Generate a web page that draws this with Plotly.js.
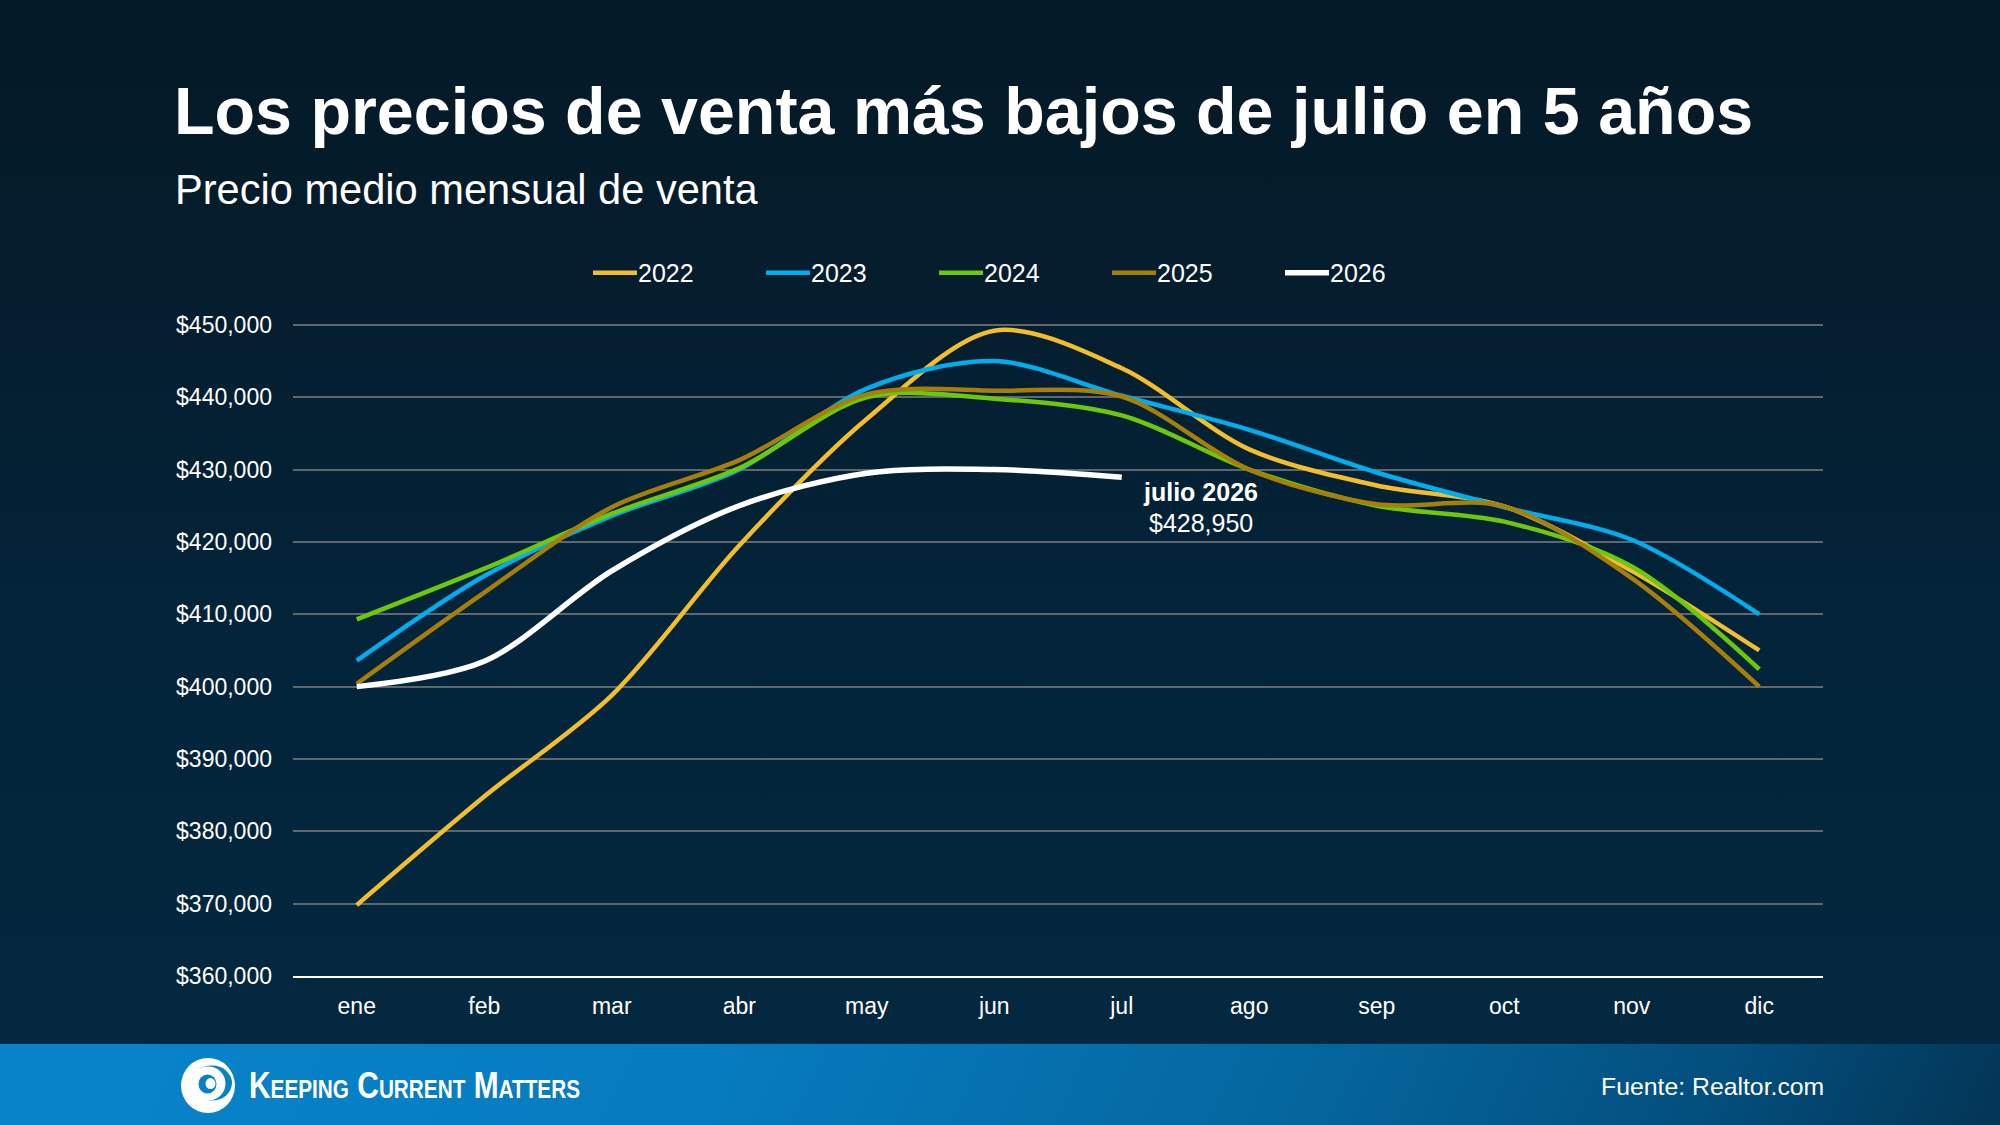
<!DOCTYPE html>
<html><head><meta charset="utf-8">
<script src="https://cdn.plot.ly/plotly-3.0.1.min.js"></script>
<style>
html,body{margin:0;padding:0;width:2000px;height:1125px;overflow:hidden;background:#03263c}
#bg{position:absolute;left:0;top:0;width:2000px;height:1044px;background:linear-gradient(180deg,#041926 0%,#051d2d 25%,#03243a 60%,#03283f 100%)}
#foot{position:absolute;left:0;top:1044px;width:2000px;height:81px;background:linear-gradient(115deg,#0883ca 0%,#067cc0 35%,#05669e 65%,#034f7e 85%,#033555 100%)}
#chart{position:absolute;left:0;top:0;width:2000px;height:1125px}
</style></head><body>
<div id="bg"></div><div id="foot"></div><div id="chart"></div>
<script>
const months = ['ene','feb','mar','abr','may','jun','jul','ago','sep','oct','nov','dic'];
const v2022 = [369800,384800,398800,419500,437000,449200,444000,432800,427800,424900,416000,405000];
const v2023 = [403600,415300,423600,430000,441200,445000,440200,435500,429600,424800,420300,410000];
const v2024 = [409300,416300,423900,430200,440000,439800,437500,430000,425000,422800,416600,402400];
const v2025 = [400400,413000,424800,431300,440400,440900,440100,430000,425200,424900,415000,400000];
const v2026 = [400000,403500,416000,425000,429500,430000,428950];
const names = ['2022','2023','2024','2025','2026'];
const colors = ['#F2BE2E','#00AEEF','#6CC80E','#A67F0A','#FFFFFF'];
const widths = [4.5,4.5,4.5,4.5,5.5];
const series = [v2022,v2023,v2024,v2025,v2026];
const W=2000,H=1125,L=293,R=1823,T=322.1,B=976;
const X=p=>(p-L)/(R-L), Y=p=>(B-p)/(B-T);
const FONT='"Liberation Sans", Arial, sans-serif';
const traces=series.map((s,i)=>({type:'scatter',mode:'lines',name:names[i],x:months.slice(0,s.length),y:s,
  line:{color:colors[i],width:widths[i],shape:'spline',smoothing:0.9},hoverinfo:'skip'}));
const note=(x,y,text,size,anchor,extra)=>Object.assign({xref:'paper',yref:'paper',x:X(x),y:Y(y),text,showarrow:false,
  xanchor:anchor,yanchor:'middle',font:{family:FONT,size,color:'#fff'}},extra||{});
const annotations=[
 note(173,190,'Precio medio mensual de venta',41.6,'left'),
 note(1200.6,492,'<b>julio 2026</b>',25,'center'),
 note(1200.6,523,'$428,950',25,'center'),
 note(1826,1086,'Fuente: Realtor.com',24.8,'right'),
 note(247,1085,'Keeping Current Matters',36,'left',{align:'left',font:{family:FONT,size:36,color:'#fff',weight:700,variant:'small-caps'}})
];
const ell=(cx,cy,rx,ry,fill)=>({type:'circle',xref:'paper',yref:'paper',x0:X(cx-rx),x1:X(cx+rx),y0:Y(cy-ry),y1:Y(cy+ry),fillcolor:fill,line:{width:0},layer:'above'});
const LOGOBLUE='#0781c6';
const shapes=[
 ell(208,1085.5,27,27.5,'#fff'),ell(212,1083,20,17.5,LOGOBLUE),ell(208.5,1083.5,17,17,'#fff'),
 ell(207.5,1084,9,9.5,LOGOBLUE),ell(210.5,1083.5,5,5.5,'#fff')
];
const layout={
 width:W,height:H,paper_bgcolor:'rgba(0,0,0,0)',plot_bgcolor:'rgba(0,0,0,0)',
 margin:{l:L,r:W-R,t:T,b:H-B,pad:0},
 title:{text:'<b>Los precios de venta más bajos de julio en 5 años</b>',x:174/W,xanchor:'left',xref:'container',y:1-111/H,yanchor:'middle',yref:'container',font:{family:FONT,size:66.4,color:'#fff'}},
 font:{family:FONT,color:'#fff',size:23},
 showlegend:true,
 legend:{orientation:'h',x:X(588),xanchor:'left',y:Y(273),yanchor:'middle',font:{family:FONT,size:25,color:'#fff'},itemwidth:44,entrywidth:114,entrywidthmode:'pixels',bgcolor:'rgba(0,0,0,0)',traceorder:'normal'},
 xaxis:{type:'category',categoryorder:'array',categoryarray:months,range:[-0.5,11.5],showgrid:false,zeroline:false,showline:true,linecolor:'#fff',linewidth:2,ticks:'',tickfont:{family:FONT,size:23,color:'#fff'},ticklabelstandoff:8,fixedrange:true},
 yaxis:{range:[360000,450400],dtick:10000,tick0:360000,tickformat:'$,.0f',showgrid:true,gridcolor:'#5E676C',gridwidth:2,zeroline:false,showline:false,ticks:'',tickfont:{family:FONT,size:23,color:'#fff'},ticklabelstandoff:20,fixedrange:true},
 annotations,shapes
};
Plotly.newPlot('chart',traces,layout,{displayModeBar:false,staticPlot:true}).then(gd=>{
  gd.querySelectorAll('.annotation-text').forEach(t=>{
    if(t.textContent.indexOf('Keeping')>=0){t.setAttribute('textLength','331');t.setAttribute('lengthAdjust','spacingAndGlyphs');}
  });
  gd.querySelectorAll('.legendtext').forEach(t=>{t.setAttribute('x',String(parseFloat(t.getAttribute('x'))-4));});
});
</script></body></html>
